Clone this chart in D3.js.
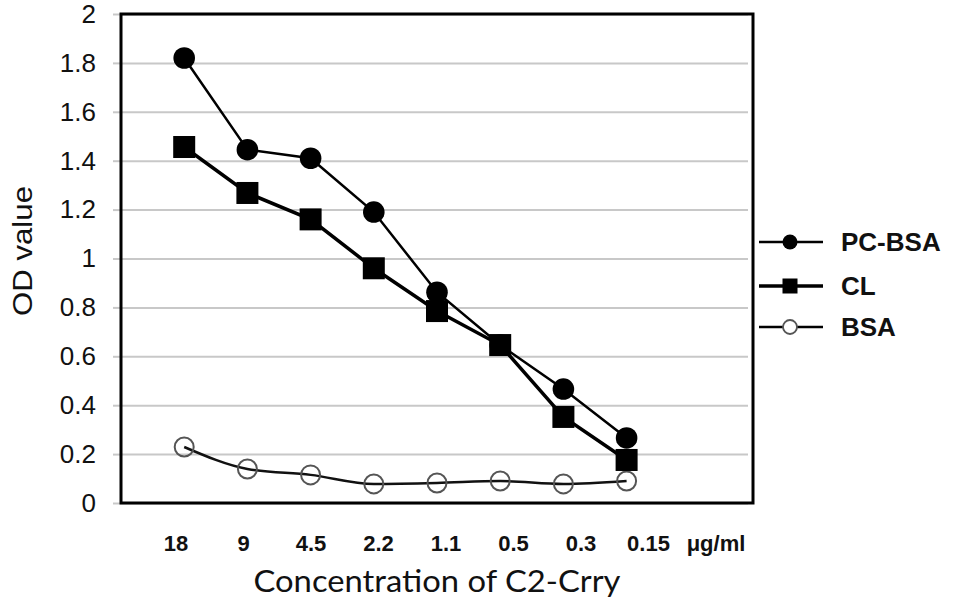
<!DOCTYPE html>
<html>
<head>
<meta charset="utf-8">
<script src="https://cdn.jsdelivr.net/npm/d3@7"></script>
<style>
  body { margin: 0; background: #fff; }
  svg { display: block; }
</style>
</head>
<body>
<div id="chart"></div>
<script>
// concentrations of C2-Crry (ug/ml), left to right
var concentrations = ["18", "9", "4.5", "2.2", "1.1", "0.5", "0.3", "0.15"];
var unitLabel = "\u03bcg/ml";
var pcBsa = [1.82, 1.445, 1.41, 1.19, 0.862, 0.646, 0.466, 0.266];
var cl    = [1.456, 1.268, 1.16, 0.96, 0.785, 0.646, 0.352, 0.176];
var bsa   = [0.229, 0.139, 0.115, 0.078, 0.082, 0.09, 0.078, 0.09];
var yTicks = [0, 0.2, 0.4, 0.6, 0.8, 1, 1.2, 1.4, 1.6, 1.8, 2];
var seriesNames = ["PC-BSA", "CL", "BSA"];

var width = 954, height = 602;
// plot box (don't call these top/left: window.top is read only)
var pLeft = 121, pRight = 753, pTop = 14, pBottom = 503;

var svg = d3.select("#chart").append("svg").attr("width", width).attr("height", height);

// one empty slot before the first point and two after the last (unit label sits there)
var x = d3.scaleLinear().domain([-1, concentrations.length + 1]).range([pLeft, pRight]);
var y = d3.scaleLinear().domain([0, 2]).range([pBottom, pTop]);
// the category labels under the axis are spread a bit wider than the points
var xLab = d3.scalePoint().domain(concentrations.concat([unitLabel])).range([176, 716]);

// gridlines + tick marks
var yAxis = d3.axisLeft(y).tickValues(yTicks).tickFormat(d3.format("")).tickSize(-(pRight - pLeft - 5)).tickPadding(25);
var gy = svg.append("g").attr("transform", "translate(" + pLeft + ",0)").call(yAxis);
gy.select(".domain").remove();
gy.selectAll(".tick line").attr("stroke", "#c8c8c8").attr("stroke-width", 2);
gy.selectAll(".tick").append("line").attr("x1", -8).attr("x2", 0).attr("stroke", "#c8c8c8").attr("stroke-width", 2);
gy.selectAll(".tick text")
    .attr("fill", "#111")
    .style("font-family", "Liberation Sans, Arial, sans-serif")
    .style("font-size", "26px");

// frame
svg.append("rect")
    .attr("x", pLeft).attr("y", pTop)
    .attr("width", pRight - pLeft).attr("height", pBottom - pTop)
    .attr("fill", "none").attr("stroke", "#000").attr("stroke-width", 3);

// x category labels
svg.selectAll(".xlab").data(xLab.domain()).enter()
    .append("text")
    .attr("class", "xlab")
    .attr("x", function(d) { return xLab(d); })
    .attr("y", 551)
    .attr("text-anchor", "middle")
    .style("font-family", "Liberation Sans, Arial, sans-serif")
    .style("font-weight", "bold")
    .style("font-size", "22px")
    .attr("fill", "#111")
    .text(function(d) { return d; });

// axis titles
svg.append("text")
    .attr("x", (pLeft + pRight) / 2).attr("y", 592)
    .attr("text-anchor", "middle")
    .attr("textLength", 367).attr("lengthAdjust", "spacingAndGlyphs")
    .style("font-family", "Lato, Open Sans, sans-serif")
    .style("font-size", "30px")
    .attr("fill", "#111")
    .text("Concentration of C2-Crry");

svg.append("text")
    .attr("transform", "translate(32,251) rotate(-90)")
    .attr("text-anchor", "middle")
    .attr("textLength", 130).attr("lengthAdjust", "spacingAndGlyphs")
    .style("font-family", "Liberation Sans, Arial, sans-serif")
    .style("font-size", "27px")
    .attr("fill", "#111")
    .text("OD value");

var line = d3.line().x(function(d, i) { return x(i); }).y(function(d) { return y(d); });
var smooth = d3.line().x(function(d, i) { return x(i); }).y(function(d) { return y(d); }).curve(d3.curveMonotoneX);

// BSA (open circles)
svg.append("path").datum(bsa).attr("d", smooth)
    .attr("fill", "none").attr("stroke", "#111").attr("stroke-width", 2.5);
svg.selectAll(".bsa").data(bsa).enter()
    .append("circle").attr("class", "bsa")
    .attr("cx", function(d, i) { return x(i); })
    .attr("cy", function(d) { return y(d); })
    .attr("r", 9.5)
    .attr("fill", "none").attr("stroke", "#555").attr("stroke-width", 2);

// CL (squares)
svg.append("path").datum(cl).attr("d", line)
    .attr("fill", "none").attr("stroke", "#000").attr("stroke-width", 3.5);
svg.selectAll(".cl").data(cl).enter()
    .append("rect").attr("class", "cl")
    .attr("x", function(d, i) { return x(i) - 11; })
    .attr("y", function(d) { return y(d) - 11; })
    .attr("width", 22).attr("height", 22)
    .attr("fill", "#000");

// PC-BSA (filled circles)
svg.append("path").datum(pcBsa).attr("d", line)
    .attr("fill", "none").attr("stroke", "#000").attr("stroke-width", 2.5);
svg.selectAll(".pc").data(pcBsa).enter()
    .append("circle").attr("class", "pc")
    .attr("cx", function(d, i) { return x(i); })
    .attr("cy", function(d) { return y(d); })
    .attr("r", 10.8)
    .attr("fill", "#000");

// legend
var leg = svg.append("g").attr("transform", "translate(759,0)");
var legY = [242, 286, 327];
seriesNames.forEach(function(name, i) {
    var ly = legY[i];
    leg.append("line").attr("x1", 0).attr("x2", 64).attr("y1", ly).attr("y2", ly)
        .attr("stroke", "#000").attr("stroke-width", i === 1 ? 3.5 : 2.5);
    if (i === 0) {
        leg.append("circle").attr("cx", 31).attr("cy", ly).attr("r", 7.5).attr("fill", "#000");
    } else if (i === 1) {
        leg.append("rect").attr("x", 23.5).attr("y", ly - 7.5).attr("width", 15).attr("height", 15).attr("fill", "#000");
    } else {
        leg.append("circle").attr("cx", 31).attr("cy", ly).attr("r", 7).attr("fill", "#fff")
            .attr("stroke", "#555").attr("stroke-width", 1.8);
    }
    leg.append("text").attr("x", 82).attr("y", ly + 9)
        .style("font-family", "Liberation Sans, Arial, sans-serif")
        .style("font-weight", "bold")
        .style("font-size", "26px")
        .attr("fill", "#111")
        .text(name);
});
</script>
</body>
</html>
